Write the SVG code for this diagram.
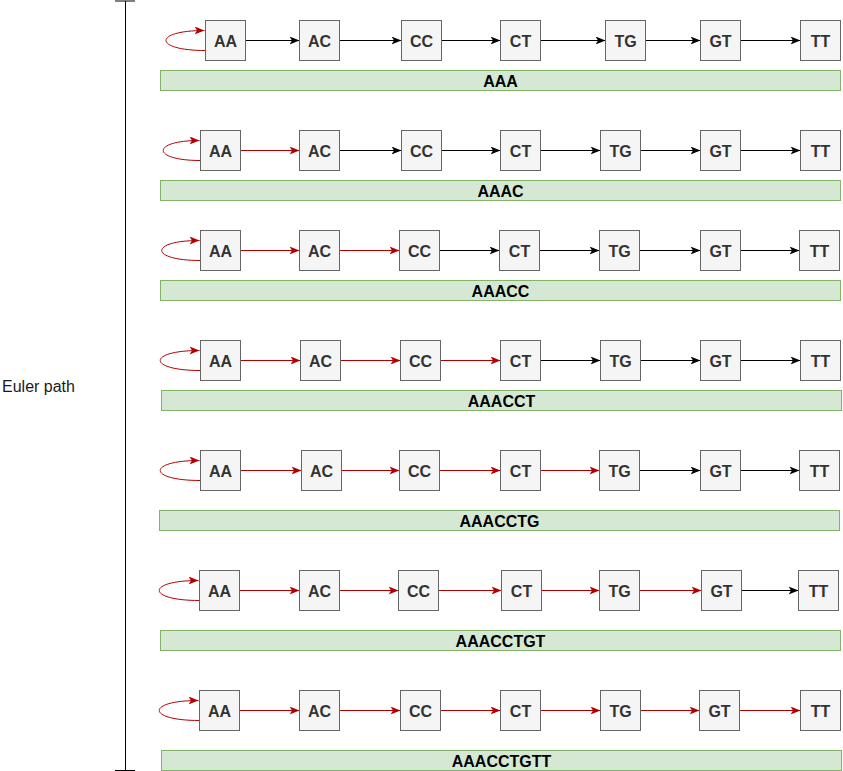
<svg xmlns="http://www.w3.org/2000/svg" width="843" height="771" viewBox="0 0 843 771">
<style>
.n rect{fill:#f5f5f5;stroke:#666666;stroke-width:1}
.n text{font-family:"Liberation Sans",Arial,sans-serif;font-weight:bold;font-size:16px;fill:#333333;text-anchor:middle}
.bar rect{fill:#d5e8d4;stroke:#82b366;stroke-width:1}
.bar text{font-family:"Liberation Sans",Arial,sans-serif;font-weight:bold;font-size:16px;fill:#000000;text-anchor:middle}
.k{fill:none;stroke:#000000;stroke-width:1;marker-end:url(#ak)}
.r{fill:none;stroke:#B20000;stroke-width:1;marker-end:url(#ar)}
.lbl{font-family:"Liberation Sans",Arial,sans-serif;font-size:16px;fill:#1a1a1a}
</style>
<defs>
<marker id="ak" markerUnits="userSpaceOnUse" viewBox="0 0 10 8" refX="10" refY="4" markerWidth="10" markerHeight="8" orient="auto"><path d="M0,0 L10,4 L0,8 L2.5,4 Z" fill="#000000"/></marker>
<marker id="ar" markerUnits="userSpaceOnUse" viewBox="0 0 10 8" refX="10" refY="4" markerWidth="10" markerHeight="8" orient="auto"><path d="M0,0 L10,4 L0,8 L2.5,4 Z" fill="#B20000"/></marker>
</defs>

<g id="bracket" stroke="#000000" stroke-width="1" fill="none">
<path d="M125.5,1 L125.5,770.5 M115,1 L135,1 M115,770.5 L135,770.5"/>
</g>
<g id="euler-label"><text class="lbl" x="2" y="392">Euler path</text></g>

<g id="connectors">
<!-- row 1 -->
<path class="r" d="M205.5,50.5 C153,50.5 153,30.5 204.5,30.5"/>
<path class="k" d="M245.5,40.5 L299.5,40.5"/>
<path class="k" d="M339.5,40.5 L401.5,40.5"/>
<path class="k" d="M441.5,40.5 L500.5,40.5"/>
<path class="k" d="M540.5,40.5 L605.5,40.5"/>
<path class="k" d="M645.5,40.5 L700.5,40.5"/>
<path class="k" d="M740.5,40.5 L800.5,40.5"/>
<!-- row 2 -->
<path class="r" d="M200.5,160.5 C151,160.5 151,140.5 199.5,140.5"/>
<path class="r" d="M240.5,150.5 L299.5,150.5"/>
<path class="k" d="M339.5,150.5 L401.5,150.5"/>
<path class="k" d="M441.5,150.5 L500.5,150.5"/>
<path class="k" d="M540.5,150.5 L600.5,150.5"/>
<path class="k" d="M640.5,150.5 L700.5,150.5"/>
<path class="k" d="M740.5,150.5 L800.5,150.5"/>
<!-- row 3 -->
<path class="r" d="M200.5,260.5 C149,260.5 149,240.5 199.5,240.5"/>
<path class="r" d="M240.5,250.5 L299.5,250.5"/>
<path class="r" d="M339.5,250.5 L399.5,250.5"/>
<path class="k" d="M439.5,250.5 L499.5,250.5"/>
<path class="k" d="M539.5,250.5 L599.5,250.5"/>
<path class="k" d="M639.5,250.5 L700.5,250.5"/>
<path class="k" d="M740.5,250.5 L799.5,250.5"/>
<!-- row 4 -->
<path class="r" d="M200.5,370.5 C147,370.5 147,350.5 199.5,350.5"/>
<path class="r" d="M240.5,360.5 L300.5,360.5"/>
<path class="r" d="M340.5,360.5 L400.5,360.5"/>
<path class="r" d="M440.5,360.5 L500.5,360.5"/>
<path class="k" d="M540.5,360.5 L600.5,360.5"/>
<path class="k" d="M640.5,360.5 L700.5,360.5"/>
<path class="k" d="M740.5,360.5 L800.5,360.5"/>
<!-- row 5 -->
<path class="r" d="M200.5,480.5 C147,480.5 147,460.5 199.5,460.5"/>
<path class="r" d="M240.5,470.5 L301.5,470.5"/>
<path class="r" d="M341.5,470.5 L399.5,470.5"/>
<path class="r" d="M439.5,470.5 L500.5,470.5"/>
<path class="r" d="M540.5,470.5 L599.5,470.5"/>
<path class="k" d="M639.5,470.5 L700.5,470.5"/>
<path class="k" d="M740.5,470.5 L799.5,470.5"/>
<!-- row 6 -->
<path class="r" d="M199.5,600.5 C146,600.5 146,580.5 198.5,580.5"/>
<path class="r" d="M239.5,590.5 L299.5,590.5"/>
<path class="r" d="M339.5,590.5 L398.5,590.5"/>
<path class="r" d="M438.5,590.5 L501.5,590.5"/>
<path class="r" d="M541.5,590.5 L599.5,590.5"/>
<path class="r" d="M639.5,590.5 L701.5,590.5"/>
<path class="k" d="M741.5,590.5 L798.5,590.5"/>
<!-- row 7 -->
<path class="r" d="M199.5,720.5 C146,720.5 146,700.5 198.5,700.5"/>
<path class="r" d="M239.5,710.5 L299.5,710.5"/>
<path class="r" d="M339.5,710.5 L400.5,710.5"/>
<path class="r" d="M440.5,710.5 L500.5,710.5"/>
<path class="r" d="M540.5,710.5 L600.5,710.5"/>
<path class="r" d="M640.5,710.5 L699.5,710.5"/>
<path class="r" d="M739.5,710.5 L800.5,710.5"/>
</g>

<!-- row 1 nodes -->
<g id="r1-AA" class="n"><rect x="205.5" y="20.5" width="40" height="40"/><text x="225.5" y="46.5">AA</text></g>
<g id="r1-AC" class="n"><rect x="299.5" y="20.5" width="40" height="40"/><text x="319.5" y="46.5">AC</text></g>
<g id="r1-CC" class="n"><rect x="401.5" y="20.5" width="40" height="40"/><text x="421.5" y="46.5">CC</text></g>
<g id="r1-CT" class="n"><rect x="500.5" y="20.5" width="40" height="40"/><text x="520.5" y="46.5">CT</text></g>
<g id="r1-TG" class="n"><rect x="605.5" y="20.5" width="40" height="40"/><text x="625.5" y="46.5">TG</text></g>
<g id="r1-GT" class="n"><rect x="700.5" y="20.5" width="40" height="40"/><text x="720.5" y="46.5">GT</text></g>
<g id="r1-TT" class="n"><rect x="800.5" y="20.5" width="40" height="40"/><text x="820.5" y="46.5">TT</text></g>
<g id="r1-seq" class="bar"><rect x="160.5" y="70.5" width="680" height="20"/><text x="500.5" y="86.5">AAA</text></g>

<!-- row 2 nodes -->
<g id="r2-AA" class="n"><rect x="200.5" y="130.5" width="40" height="40"/><text x="220.5" y="156.5">AA</text></g>
<g id="r2-AC" class="n"><rect x="299.5" y="130.5" width="40" height="40"/><text x="319.5" y="156.5">AC</text></g>
<g id="r2-CC" class="n"><rect x="401.5" y="130.5" width="40" height="40"/><text x="421.5" y="156.5">CC</text></g>
<g id="r2-CT" class="n"><rect x="500.5" y="130.5" width="40" height="40"/><text x="520.5" y="156.5">CT</text></g>
<g id="r2-TG" class="n"><rect x="600.5" y="130.5" width="40" height="40"/><text x="620.5" y="156.5">TG</text></g>
<g id="r2-GT" class="n"><rect x="700.5" y="130.5" width="40" height="40"/><text x="720.5" y="156.5">GT</text></g>
<g id="r2-TT" class="n"><rect x="800.5" y="130.5" width="40" height="40"/><text x="820.5" y="156.5">TT</text></g>
<g id="r2-seq" class="bar"><rect x="160.5" y="180.5" width="680" height="20"/><text x="500.5" y="196.5">AAAC</text></g>

<!-- row 3 nodes -->
<g id="r3-AA" class="n"><rect x="200.5" y="230.5" width="40" height="40"/><text x="220.5" y="256.5">AA</text></g>
<g id="r3-AC" class="n"><rect x="299.5" y="230.5" width="40" height="40"/><text x="319.5" y="256.5">AC</text></g>
<g id="r3-CC" class="n"><rect x="399.5" y="230.5" width="40" height="40"/><text x="419.5" y="256.5">CC</text></g>
<g id="r3-CT" class="n"><rect x="499.5" y="230.5" width="40" height="40"/><text x="519.5" y="256.5">CT</text></g>
<g id="r3-TG" class="n"><rect x="599.5" y="230.5" width="40" height="40"/><text x="619.5" y="256.5">TG</text></g>
<g id="r3-GT" class="n"><rect x="700.5" y="230.5" width="40" height="40"/><text x="720.5" y="256.5">GT</text></g>
<g id="r3-TT" class="n"><rect x="799.5" y="230.5" width="40" height="40"/><text x="819.5" y="256.5">TT</text></g>
<g id="r3-seq" class="bar"><rect x="160.5" y="280.5" width="680" height="20"/><text x="500.5" y="296.5">AAACC</text></g>

<!-- row 4 nodes -->
<g id="r4-AA" class="n"><rect x="200.5" y="340.5" width="40" height="40"/><text x="220.5" y="366.5">AA</text></g>
<g id="r4-AC" class="n"><rect x="300.5" y="340.5" width="40" height="40"/><text x="320.5" y="366.5">AC</text></g>
<g id="r4-CC" class="n"><rect x="400.5" y="340.5" width="40" height="40"/><text x="420.5" y="366.5">CC</text></g>
<g id="r4-CT" class="n"><rect x="500.5" y="340.5" width="40" height="40"/><text x="520.5" y="366.5">CT</text></g>
<g id="r4-TG" class="n"><rect x="600.5" y="340.5" width="40" height="40"/><text x="620.5" y="366.5">TG</text></g>
<g id="r4-GT" class="n"><rect x="700.5" y="340.5" width="40" height="40"/><text x="720.5" y="366.5">GT</text></g>
<g id="r4-TT" class="n"><rect x="800.5" y="340.5" width="40" height="40"/><text x="820.5" y="366.5">TT</text></g>
<g id="r4-seq" class="bar"><rect x="161.5" y="390.5" width="680" height="20"/><text x="501.5" y="406.5">AAACCT</text></g>

<!-- row 5 nodes -->
<g id="r5-AA" class="n"><rect x="200.5" y="450.5" width="40" height="40"/><text x="220.5" y="476.5">AA</text></g>
<g id="r5-AC" class="n"><rect x="301.5" y="450.5" width="40" height="40"/><text x="321.5" y="476.5">AC</text></g>
<g id="r5-CC" class="n"><rect x="399.5" y="450.5" width="40" height="40"/><text x="419.5" y="476.5">CC</text></g>
<g id="r5-CT" class="n"><rect x="500.5" y="450.5" width="40" height="40"/><text x="520.5" y="476.5">CT</text></g>
<g id="r5-TG" class="n"><rect x="599.5" y="450.5" width="40" height="40"/><text x="619.5" y="476.5">TG</text></g>
<g id="r5-GT" class="n"><rect x="700.5" y="450.5" width="40" height="40"/><text x="720.5" y="476.5">GT</text></g>
<g id="r5-TT" class="n"><rect x="799.5" y="450.5" width="40" height="40"/><text x="819.5" y="476.5">TT</text></g>
<g id="r5-seq" class="bar"><rect x="159.5" y="510.5" width="680" height="20"/><text x="499.5" y="526.5">AAACCTG</text></g>

<!-- row 6 nodes -->
<g id="r6-AA" class="n"><rect x="199.5" y="570.5" width="40" height="40"/><text x="219.5" y="596.5">AA</text></g>
<g id="r6-AC" class="n"><rect x="299.5" y="570.5" width="40" height="40"/><text x="319.5" y="596.5">AC</text></g>
<g id="r6-CC" class="n"><rect x="398.5" y="570.5" width="40" height="40"/><text x="418.5" y="596.5">CC</text></g>
<g id="r6-CT" class="n"><rect x="501.5" y="570.5" width="40" height="40"/><text x="521.5" y="596.5">CT</text></g>
<g id="r6-TG" class="n"><rect x="599.5" y="570.5" width="40" height="40"/><text x="619.5" y="596.5">TG</text></g>
<g id="r6-GT" class="n"><rect x="701.5" y="570.5" width="40" height="40"/><text x="721.5" y="596.5">GT</text></g>
<g id="r6-TT" class="n"><rect x="798.5" y="570.5" width="40" height="40"/><text x="818.5" y="596.5">TT</text></g>
<g id="r6-seq" class="bar"><rect x="160.5" y="630.5" width="680" height="20"/><text x="500.5" y="646.5">AAACCTGT</text></g>

<!-- row 7 nodes -->
<g id="r7-AA" class="n"><rect x="199.5" y="690.5" width="40" height="40"/><text x="219.5" y="716.5">AA</text></g>
<g id="r7-AC" class="n"><rect x="299.5" y="690.5" width="40" height="40"/><text x="319.5" y="716.5">AC</text></g>
<g id="r7-CC" class="n"><rect x="400.5" y="690.5" width="40" height="40"/><text x="420.5" y="716.5">CC</text></g>
<g id="r7-CT" class="n"><rect x="500.5" y="690.5" width="40" height="40"/><text x="520.5" y="716.5">CT</text></g>
<g id="r7-TG" class="n"><rect x="600.5" y="690.5" width="40" height="40"/><text x="620.5" y="716.5">TG</text></g>
<g id="r7-GT" class="n"><rect x="699.5" y="690.5" width="40" height="40"/><text x="719.5" y="716.5">GT</text></g>
<g id="r7-TT" class="n"><rect x="800.5" y="690.5" width="40" height="40"/><text x="820.5" y="716.5">TT</text></g>
<g id="r7-seq" class="bar"><rect x="161.5" y="750.5" width="680" height="20"/><text x="501.5" y="766.5">AAACCTGTT</text></g>
</svg>
